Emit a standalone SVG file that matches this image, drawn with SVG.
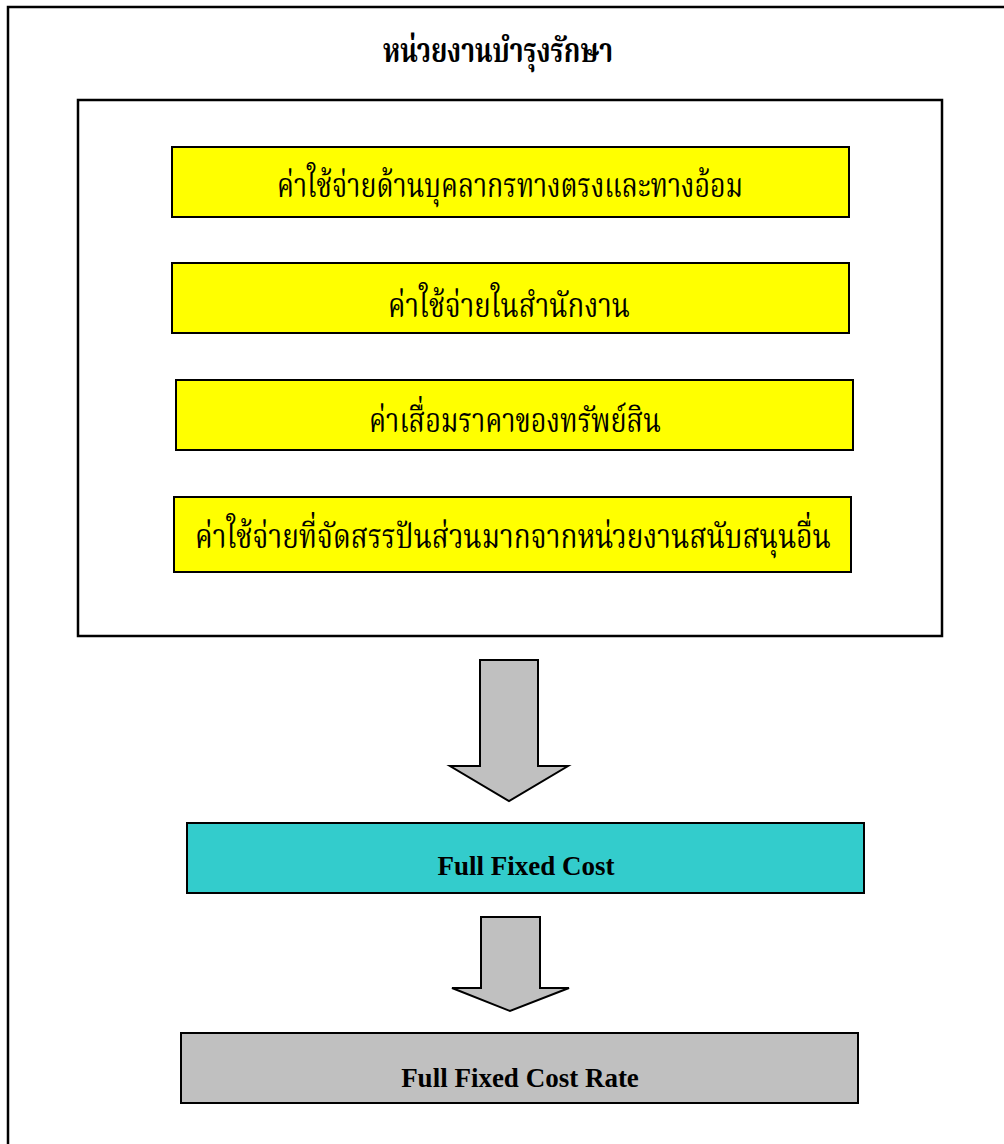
<svg xmlns="http://www.w3.org/2000/svg" width="1004" height="1144" viewBox="0 0 1004 1144">
  <style>
    .frame { fill: none; stroke: #000; stroke-width: 2.5; }
    .box { stroke: #000; stroke-width: 2; }
    .yellow { fill: #FFFF00; }
    .cyan { fill: #33CCCC; }
    .grey { fill: #C0C0C0; }
    .thai { font-family: "Angsana New", "AngsanaUPC", "Noto Serif Thai", "Noto Sans Thai Looped", "Norasi", "Kinnari", "Garuda", "Loma", "Noto Sans Thai", "Noto Sans", "DejaVu Sans", sans-serif; font-size: 34px; fill: #000; text-anchor: middle; }
    .title { font-weight: bold; }
    .en { font-family: "Liberation Serif", "Times New Roman", serif; font-weight: bold; font-size: 27px; fill: #000; text-anchor: middle; }
    .arrow { fill: #C0C0C0; stroke: #000; stroke-width: 2; stroke-linejoin: miter; }
  </style>
  <rect x="0" y="0" width="1004" height="1144" fill="#fff"/>
  <g id="outer-frame">
    <rect class="frame" x="8" y="7" width="1010" height="1160"/>
    <text class="thai title" x="498" y="62" textLength="230" lengthAdjust="spacingAndGlyphs">หน่วยงานบำรุงรักษา</text>
  </g>
  <g id="cost-group">
    <rect class="frame" x="78" y="100" width="864" height="536"/>
  </g>
  <g id="node-personnel">
    <rect class="box yellow" x="172" y="147" width="677" height="70"/>
    <text class="thai" x="510" y="197" textLength="466" lengthAdjust="spacingAndGlyphs">ค่าใช้จ่ายด้านบุคลากรทางตรงและทางอ้อม</text>
  </g>
  <g id="node-office">
    <rect class="box yellow" x="172" y="263" width="677" height="70"/>
    <text class="thai" x="509" y="317" textLength="242" lengthAdjust="spacingAndGlyphs">ค่าใช้จ่ายในสำนักงาน</text>
  </g>
  <g id="node-depreciation">
    <rect class="box yellow" x="176" y="380" width="677" height="70"/>
    <text class="thai" x="515" y="432" textLength="292" lengthAdjust="spacingAndGlyphs">ค่าเสื่อมราคาของทรัพย์สิน</text>
  </g>
  <g id="node-allocated">
    <rect class="box yellow" x="174" y="497" width="677" height="75"/>
    <text class="thai" x="513" y="548" textLength="636" lengthAdjust="spacingAndGlyphs">ค่าใช้จ่ายที่จัดสรรปันส่วนมากจากหน่วยงานสนับสนุนอื่น</text>
  </g>
  <g id="connectors">
    <polygon class="arrow" points="480,660 538,660 538,766 568,766 509,801 450,766 480,766"/>
    <polygon class="arrow" points="481,917 540,917 540,988 569,988 510,1011 452,988 481,988"/>
  </g>
  <g id="node-full-fixed-cost">
    <rect class="box cyan" x="187" y="823" width="677" height="70"/>
    <text class="en" x="526" y="875">Full Fixed Cost</text>
  </g>
  <g id="node-full-fixed-cost-rate">
    <rect class="box grey" x="181" y="1033" width="677" height="70"/>
    <text class="en" x="520" y="1087">Full Fixed Cost Rate</text>
  </g>
</svg>
